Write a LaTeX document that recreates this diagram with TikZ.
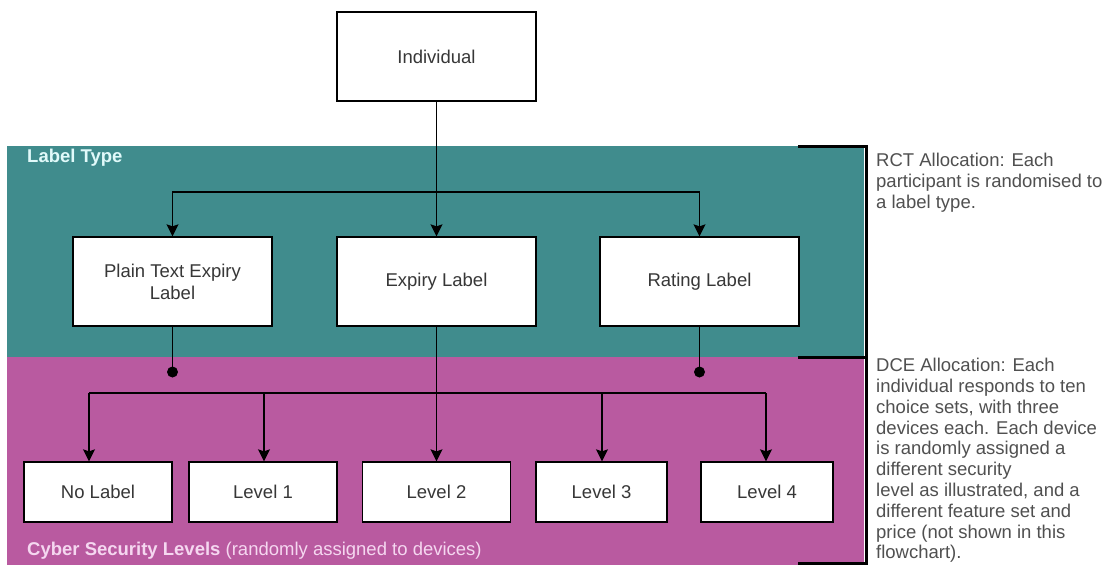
\documentclass[tikz,border=0pt]{standalone}
\usepackage{fontspec}
\setmainfont{Liberation Sans}
\usetikzlibrary{arrows.meta}
\definecolor{tealband}{RGB}{64,140,141}
\definecolor{magband}{RGB}{185,90,160}
\definecolor{boxtext}{RGB}{55,55,55}
\definecolor{notetext}{RGB}{80,80,80}
\definecolor{tealtitle}{RGB}{225,250,250}
\definecolor{magtitle}{RGB}{245,215,240}
\tikzset{
  box/.style={draw=black, line width=1.3pt, fill=white, inner sep=0pt, align=center,
    text=boxtext, font=\fontsize{18.5}{22}\selectfont},
  conn/.style={draw=black, line width=1.3pt},
  arr/.style={conn, -{Stealth[length=12pt,width=12pt,inset=2pt]}},
  bracketline/.style={draw=black, line width=3pt},
  note/.style={anchor=north west, inner sep=0pt, align=left, text=notetext,
    font=\fontsize{18.5}{20.8}\selectfont},
  bandtitle/.style={anchor=west, inner sep=0pt, font=\fontsize{18.5}{21}\selectfont}
}
\begin{document}
\begin{tikzpicture}[x=1pt,y=-1pt]
\useasboundingbox (0,0) rectangle (1119,565);
\fill[white] (0,0) rectangle (1119,565);
% bands
\fill[tealband] (7,146) rectangle (864,357);
\fill[magband] (7,357) rectangle (864,565);
% brackets
\draw[bracketline] (798,146) -- (866,146) -- (866,563) -- (798,563);
\draw[bracketline] (798,357) -- (866,357);
% band titles
\node[bandtitle, text=tealtitle] (lt) at (27,158) {\bfseries Label Type};
\node[bandtitle, text=magtitle] (cs) at (27,551) {\bfseries Cyber Security Levels \mdseries(randomly assigned to devices)};
% boxes
\node[box, minimum width=199pt, minimum height=89pt] (ind) at (436.5,56.5) {Individual};
\node[box, minimum width=199pt, minimum height=89pt] (plain) at (172.5,281.5) {Plain Text Expiry\\Label};
\node[box, minimum width=199pt, minimum height=89pt] (exp) at (436.5,281.5) {Expiry Label};
\node[box, minimum width=199pt, minimum height=89pt] (rat) at (699.5,281.5) {Rating Label};
\node[box, minimum width=148pt, minimum height=60pt] (nolab) at (98,492) {No Label};
\node[box, minimum width=148pt, minimum height=60pt] (lv1) at (263,492) {Level 1};
\node[box, minimum width=148pt, minimum height=60pt] (lv2) at (436.5,492) {Level 2};
\node[box, minimum width=131pt, minimum height=60pt] (lv3) at (601.5,492) {Level 3};
\node[box, minimum width=132pt, minimum height=60pt] (lv4) at (767,492) {Level 4};
% connectors top
\coordinate (br) at (436.5,192);
\draw[arr] (ind.south) -- (exp.north);
\draw[arr] (br) -| (plain.north);
\draw[arr] (br) -| (rat.north);
\draw[arr] (exp.south) -- (lv2.north);
% dots
\coordinate (d1) at (172.5,372);
\coordinate (d2) at (699.5,372);
\draw[conn] (plain.south) -- (d1);
\draw[conn] (rat.south) -- (d2);
\fill[black] (d1) circle (5.5pt);
\fill[black] (d2) circle (5.5pt);
% lower distribution line
\coordinate (h0) at (89,393);
\coordinate (h1) at (264,393);
\coordinate (h3) at (602,393);
\coordinate (h4) at (766,393);
\draw[conn] (h0) -- (h4);
\draw[arr] (h0) -- (h0 |- nolab.north);
\draw[arr] (h1) -- (h1 |- lv1.north);
\draw[arr] (h3) -- (h3 |- lv3.north);
\draw[arr] (h4) -- (h4 |- lv4.north);
% notes
\node[note] (rct) at (876,153) {RCT Allocation: Each\\participant is randomised to\\a label type.};
\node[note] (dce) at (876,358) {DCE Allocation: Each\\individual responds to ten\\choice sets, with three\\devices each. Each device\\is randomly assigned a\\different security\\level as illustrated, and a\\different feature set and\\price (not shown in this\\flowchart).};
\end{tikzpicture}
\end{document}
